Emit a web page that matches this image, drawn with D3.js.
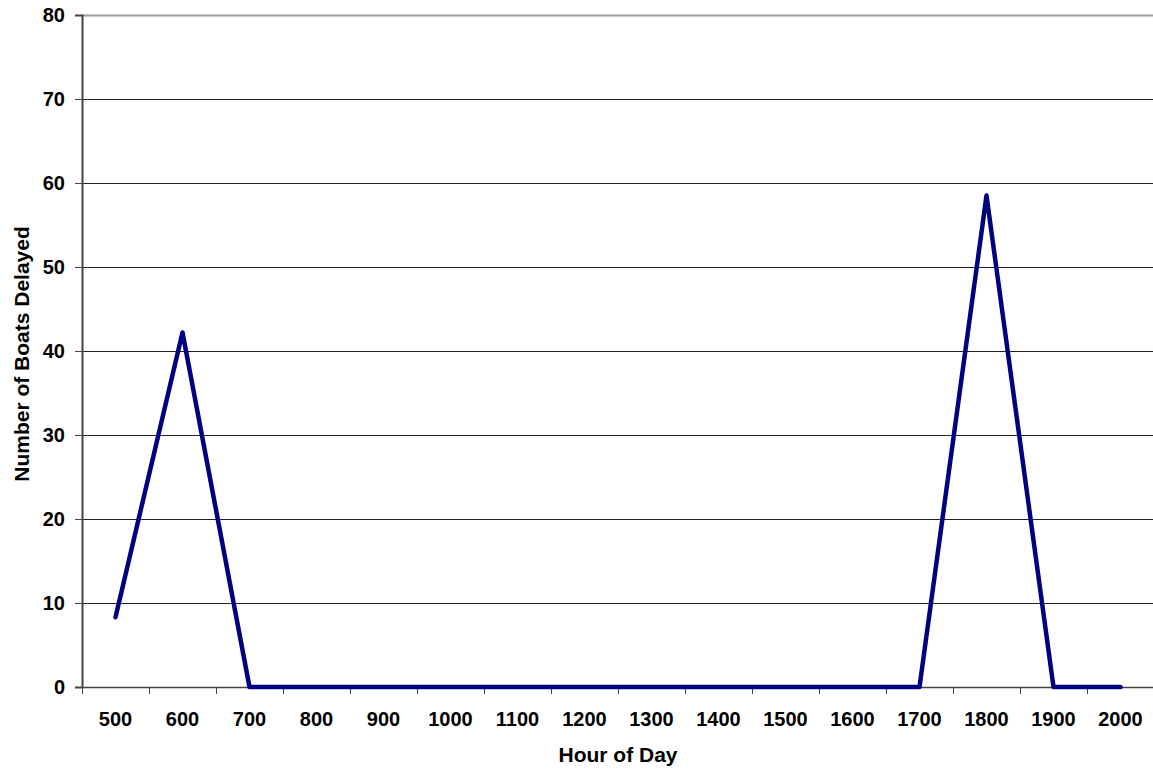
<!DOCTYPE html>
<meta charset="utf-8">
<style>
  body { margin: 0; background: #fff; }
  text { font-family: "Liberation Sans", Arial, sans-serif; font-weight: bold; fill: #000; }
</style>
<svg width="1153" height="772"></svg>
<script src="https://d3js.org/d3.v7.min.js"></script>
<script>
const hours = ["500","600","700","800","900","1000","1100","1200","1300","1400","1500","1600","1700","1800","1900","2000"]
const boatsDelayed = [8.3, 42.2, 0, 0, 0, 0, 0, 0, 0, 0, 0, 0, 0, 58.5, 0, 0]
const yTicks = [0, 10, 20, 30, 40, 50, 60, 70, 80]

const svg = d3.select("svg")
const plotLeft = 82, plotRight = 1154, plotTop = 15, plotBottom = 687

const x = d3.scaleBand().domain(hours).range([plotLeft, plotRight])
const y = d3.scaleLinear().domain([0, 80]).range([plotBottom, plotTop])

// horizontal gridlines
svg.append("g")
    .selectAll("line")
    .data(yTicks.filter(d => d > 0))
    .enter()
    .append("line")
    .attr("x1", plotLeft).attr("x2", plotRight)
    .attr("y1", d => y(d) + 0.5).attr("y2", d => y(d) + 0.5)
    .attr("stroke", d => d === 80 ? "#999" : "#222")
    .attr("stroke-width", d => d === 80 ? 2 : 1)

// y axis
const yAxis = svg.append("g")
    .attr("transform", `translate(${plotLeft},0)`)
    .call(d3.axisLeft(y).tickValues(yTicks).tickSize(7).tickPadding(10))
yAxis.select(".domain").attr("stroke", "#444").attr("stroke-width", 2)
yAxis.selectAll(".tick line").attr("stroke", "#444")
yAxis.selectAll(".tick text").attr("font-family", null).style("font-size", "20px")

// x axis: ticks between categories
const xAxis = svg.append("g")
    .attr("transform", `translate(0,${plotBottom})`)
xAxis.append("line")
    .attr("x1", plotLeft).attr("x2", plotRight)
    .attr("y1", 0.5).attr("y2", 0.5)
    .attr("stroke", "#444").attr("stroke-width", 1.5)
xAxis.selectAll("line.tk")
    .data(hours)
    .enter()
    .append("line")
    .attr("class", "tk")
    .attr("x1", d => x(d) + 0.5).attr("x2", d => x(d) + 0.5)
    .attr("y1", 0).attr("y2", 7)
    .attr("stroke", "#444")
xAxis.selectAll("text")
    .data(hours)
    .enter()
    .append("text")
    .attr("x", d => x(d) + x.bandwidth() / 2)
    .attr("y", 39)
    .attr("text-anchor", "middle")
    .style("font-size", "20px")
    .text(d => d)

// line
const line = d3.line()
    .x((d, i) => x(hours[i]) + x.bandwidth() / 2)
    .y(d => y(d))
svg.append("path")
    .datum(boatsDelayed)
    .attr("d", line)
    .attr("fill", "none")
    .attr("stroke", "#000080")
    .attr("stroke-width", 4.5)
    .attr("stroke-linejoin", "round")
    .attr("stroke-linecap", "round")

// axis titles
svg.append("text")
    .attr("x", 618)
    .attr("y", 762)
    .attr("text-anchor", "middle")
    .style("font-size", "21px")
    .text("Hour of Day")

svg.append("text")
    .attr("transform", `translate(29,354) rotate(-90)`)
    .attr("text-anchor", "middle")
    .style("font-size", "21px")
    .text("Number of Boats Delayed")
</script>
